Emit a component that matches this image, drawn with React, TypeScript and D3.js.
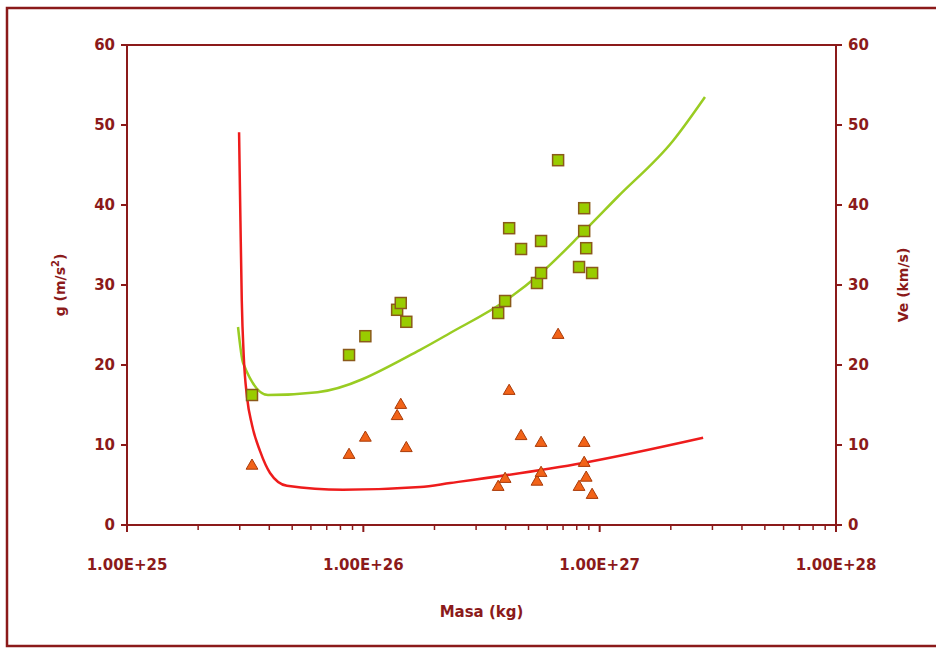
import React from "react";
import * as d3 from "d3";

const W = 936, H = 650;
const xTickLabels = ["1.00E+25", "1.00E+26", "1.00E+27", "1.00E+28"];
const xTickValues = [1e25, 1e26, 1e27, 1e28];
const yTicks = [0, 10, 20, 30, 40, 50, 60];

// planet masses (kg)
const masses = [3.38e25, 8.7e25, 1.02e26, 1.39e26, 1.44e26, 1.52e26, 3.72e26, 3.98e26, 4.14e26, 4.65e26, 5.43e26, 5.65e26, 5.65e26, 6.67e26, 8.18e26, 8.6e26, 8.6e26, 8.77e26, 9.29e26];
// escape velocity (km/s) - squares
const veValues = [16.25, 21.25, 23.6, 26.9, 27.75, 25.4, 26.5, 28, 37.1, 34.5, 30.25, 35.5, 31.5, 45.6, 32.25, 39.6, 36.75, 34.6, 31.5];
// surface gravity (m/s2) - triangles
const gValues = [7.4, 8.75, 10.9, 13.6, 15, 9.6, 4.75, 5.75, 16.75, 11.1, 5.4, 10.25, 6.5, 23.75, 4.75, 10.25, 7.75, 5.9, 3.75];

// theoretical curves
const veLineMass = [2.95e25, 3.1e25, 3.95e25, 6.4e25, 1.74e26, 2.33e26, 3.98e26, 5.65e26, 8.5e26, 1.19e27, 2.04e27, 2.79e27];
const veLineValues = [24.75, 20.25, 16.25, 16.6, 21.9, 24, 28, 31.5, 36.6, 41, 48, 53.5];
const gLineMass = [2.98e25, 3.02e25, 3.06e25, 3.12e25, 3.22e25, 3.38e25, 3.66e25, 4.03e25, 4.75e25, 8.2e25, 1.74e26, 2.33e26, 8.5e26, 2.74e27];
const gLineValues = [49.1, 38, 28, 21, 16, 12.5, 9.2, 6.5, 4.9, 4.4, 4.75, 5.25, 7.75, 10.9];

const AX = "#8b1a1a";
const FONT = "'DejaVu Sans', sans-serif";

export default function App() {
  const left = 127, right = 836, top = 45, bottom = 525;
  const x = d3.scaleLog().domain([1e25, 1e28]).range([left, right]);
  const y = d3.scaleLinear().domain([0, 60]).range([bottom, top]);
  const y2 = d3.scaleLinear().domain([0, 60]).range([bottom, top]);

  const minor: number[] = [];
  for (let e = 25; e < 28; e++) for (let k = 2; k <= 9; k++) minor.push(k * Math.pow(10, e));

  const gPath = d3.line<[number, number]>().x(d => x(d[0])).y(d => y(d[1])).curve(d3.curveMonotoneX)(gLineMass.map((m, i) => [m, gLineValues[i]]))!;
  const vePath = d3.line<[number, number]>().x(d => x(d[0])).y(d => y2(d[1])).curve(d3.curveMonotoneX)(veLineMass.map((m, i) => [m, veLineValues[i]]))!;
  const tri = d3.symbol().type(d3.symbolTriangle).size(60)()!;

  return (
    <svg width={W} height={H} style={{ position: "absolute", left: 0, top: 0 }} fontFamily={FONT}>
      <rect x={0} y={0} width={W} height={H} fill="white" />
      <rect x={7} y={8} width={W + 20} height={638} fill="none" stroke={AX} strokeWidth={2.5} />
      {/* plot frame */}
      <line x1={left} x2={right} y1={top} y2={top} stroke={AX} strokeWidth={2} />
      <line x1={left} x2={left} y1={top} y2={bottom} stroke={AX} strokeWidth={2} />
      <line x1={right} x2={right} y1={top} y2={bottom} stroke={AX} strokeWidth={2} />
      <line x1={left} x2={right} y1={bottom} y2={bottom} stroke={AX} strokeWidth={2} />
      {/* left y ticks */}
      {yTicks.map(t => (
        <g key={"l" + t}>
          <line x1={left - 6} x2={left} y1={y(t)} y2={y(t)} stroke={AX} strokeWidth={2} />
          <text x={left - 12} y={y(t)} dy="0.35em" textAnchor="end" fill={AX} fontSize={15} fontWeight="bold">{t}</text>
        </g>
      ))}
      {yTicks.map(t => (
        <g key={"r" + t}>
          <line x1={right} x2={right + 6} y1={y2(t)} y2={y2(t)} stroke={AX} strokeWidth={2} />
          <text x={right + 12} y={y2(t)} dy="0.35em" textAnchor="start" fill={AX} fontSize={15} fontWeight="bold">{t}</text>
        </g>
      ))}
      {/* x ticks */}
      {minor.map((m, i) => (
        <line key={"m" + i} x1={x(m)} x2={x(m)} y1={bottom} y2={bottom + 5} stroke={AX} strokeWidth={1.5} />
      ))}
      {xTickValues.map((v, i) => (
        <g key={"x" + i}>
          <line x1={x(v)} x2={x(v)} y1={bottom} y2={bottom + 7} stroke={AX} strokeWidth={2} />
          <text x={x(v)} y={565} dy="0.35em" textAnchor="middle" fill={AX} fontSize={15} fontWeight="bold">{xTickLabels[i]}</text>
        </g>
      ))}
      <text x={(left + right) / 2} y={612} dy="0.35em" textAnchor="middle" fill={AX} fontSize={15} fontWeight="bold">Masa (kg)</text>
      <text transform={`translate(60,${(top + bottom) / 2}) rotate(-90)`} textAnchor="middle" dy="0.35em" fill={AX} fontSize={14} fontWeight="bold">
        g (m/s<tspan dy="-6" fontSize={10}>2</tspan><tspan dy="6">)</tspan>
      </text>
      <text transform={`translate(903,${(top + bottom) / 2}) rotate(-90)`} textAnchor="middle" dy="0.35em" fill={AX} fontSize={14} fontWeight="bold">Ve (km/s)</text>
      {/* curves */}
      <path d={vePath} fill="none" stroke="#99cc22" strokeWidth={2.5} />
      <path d={gPath} fill="none" stroke="#ee1c1c" strokeWidth={2.5} />
      {/* squares */}
      {masses.map((m, i) => (
        <rect key={"s" + i} x={x(m) - 5.5} y={y2(veValues[i]) - 5.5} width={11} height={11} fill="#99cc00" stroke="#8a5a1a" strokeWidth={1.5} />
      ))}
      {/* triangles */}
      {masses.map((m, i) => (
        <path key={"t" + i} d={tri} transform={`translate(${x(m)},${y(gValues[i])})`} fill="#f26318" stroke="#a83a08" strokeWidth={1} />
      ))}
    </svg>
  );
}
